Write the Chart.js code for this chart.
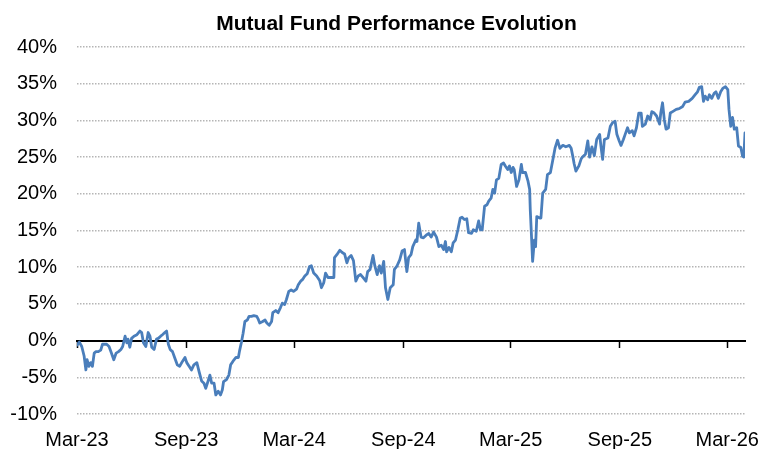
<!DOCTYPE html>
<html><head><meta charset="utf-8">
<script src="https://cdn.jsdelivr.net/npm/chart.js@4.4.1/dist/chart.umd.min.js"></script>
<style>html,body{margin:0;padding:0;background:#fff;}canvas{display:block;}</style>
</head><body>
<canvas id="c" width="762" height="449"></canvas>
<script>
// Days since 1 Mar 2023
const dayOffsets = [0,4,8,12,15,17,20,23,26,29,32,36,40,43,50,54,58,62,66,70,74,77,81,84,86,89,92,96,101,106,109,112,116,120,123,126,130,134,137,141,144,148,151,154,157,161,165,169,173,178,182,185,189,193,197,202,206,
210,214,217,221,224,227,231,234,238,242,245,247,252,256,259,263,268,272,274,277,280,283,287,290,294,298,303,305,308,313,317,320,324,328,330,335,339,343,346,350,353,357,361,365,370,373,377,380,384,388,392,395,399,
404,409,412,416,419,423,429,433,434,438,443,447,451,455,458,462,466,470,474,478,482,487,490,494,499,502,506,510,513,517,520,524,528,533,535,539,544,548,552,556,559,563,566,571,573,576,580,584,589,593,597,601,606,610,614,618,621,623,627,631,634,638,642,646,649,653,657,660,665,668,673,677,680,683,687,691,694,698,701,704,707,711,715,719,722,726,729,732,735,737,741,745,749,751,756,760,763,764,766,768,771,773,775,780,782,785,790,793,798,803,806,810,814,819,824,830,833,836,838,841,846,850,852,857,861,864,868,872,876,881,883,886,889,895,899,903,907,910,914,917,921,924,928,931,936,939,943,947,951,953,958,962,966,969,973,977,982,984,987,990,993,997,1000,1004,1010,1015,1021,1025,1031,1037,1042,1046,1049,1053,1056,1059,1063,1066,1070,1074,1077,1081,1085,1089,1093,1097,1099,1102,1105,1108,1112,1115,1119,1122,1124,1126];
// Cumulative performance, %
const returns = [-0.6,-0.2,-0.8,-2.1,-4.0,-2.6,-3.5,-3.0,-3.5,-1.7,-1.5,-1.5,-1.3,-0.5,-0.5,-0.8,-1.7,-2.6,-1.7,-1.5,-1.2,-0.8,0.6,-0.3,0.2,-0.9,0.3,0.6,0.8,1.3,1.1,-0.3,-0.8,1.1,0.6,-0.9,-1.2,0.2,0.3,0.6,0.8,1.1,1.3,-0.5,-1.2,-1.5,-2.4,-3.3,-3.5,-2.8,-2.3,-3.0,-3.5,-4.0,-3.3,-3.0,-4.3,
-5.5,-5.8,-6.5,-5.5,-4.7,-5.8,-5.8,-7.4,-6.9,-7.4,-6.7,-5.6,-5.3,-4.7,-3.3,-2.8,-2.3,-2.3,-1.4,-0.3,1.0,2.6,2.8,3.3,3.3,3.4,3.3,3.0,2.4,2.6,2.8,2.4,2.1,2.6,3.8,4.1,3.8,4.5,5.1,4.9,5.6,6.7,6.9,6.7,7.0,7.6,8.1,8.3,8.8,9.1,10.1,10.2,9.2,
8.8,8.2,7.2,7.9,9.2,8.6,8.6,8.6,11.3,11.7,12.3,12.0,11.8,10.6,11.3,11.6,10.9,8.1,8.8,9.0,8.6,8.1,9.4,9.7,11.6,10.2,9.0,10.2,9.2,10.8,7.2,5.6,7.2,7.6,9.7,10.1,11.0,12.2,12.4,9.4,11.3,11.7,12.8,13.7,13.5,16.0,14.1,14.0,14.4,14.6,14.1,14.8,14.1,12.8,13.0,12.4,13.5,12.1,12.7,12.1,13.3,13.7,15.1,16.7,16.8,16.5,16.6,14.7,14.6,15.1,14.9,16.3,15.1,15.1,18.3,18.5,19.0,19.4,20.6,20.1,21.9,22.1,24.0,24.2,23.8,23.3,23.8,22.9,23.6,23.3,21.0,21.9,24.0,22.9,22.9,21.8,20.6,17.9,14.4,10.8,13.7,12.8,16.9,16.7,16.7,20.1,20.6,22.6,22.9,25.0,26.3,27.3,26.2,26.6,26.4,26.6,26.2,25.0,24.1,23.1,23.8,24.8,25.0,25.4,27.2,25.0,26.4,25.2,27.4,28.1,26.6,24.7,27.4,27.6,29.2,29.7,29.9,28.1,27.2,26.6,27.4,28.1,29.0,28.3,28.6,27.9,29.0,31.0,31.0,29.2,29.5,30.6,30.1,31.2,31.0,30.6,29.5,31.0,32.4,30.1,28.8,29.0,31.0,31.2,31.5,31.6,31.9,32.5,32.6,33.0,33.5,33.9,34.5,34.6,32.6,33.3,32.8,33.5,33.0,33.7,33.9,33.0,33.9,34.4,34.6,34.2,31.5,29.2,30.4,28.8,29.0,26.5,26.3,25.1,25.0,28.3];
const tickDays = [0,184,366,550,731,915,1096];
const tickLabels = ['Mar-23','Sep-23','Mar-24','Sep-24','Mar-25','Sep-25','Mar-26'];
const yMin = -10, yMax = 40, yStep = 5;
const titleText = 'Mutual Fund Performance Evolution';

const FONT = "'Liberation Sans', Arial, sans-serif";
const lastDay = dayOffsets[dayOffsets.length - 1];
const setTicks = s => { s.ticks = tickDays.map(v => ({value: v})); };
const zeroPad = s => { s.paddingLeft = 0; s.paddingRight = 0; s.paddingTop = 0; s.paddingBottom = 0; };

new Chart(document.getElementById('c'), {
  type: 'line',
  data: {
    datasets: [{
      data: dayOffsets.map((d, i) => ({x: d, y: returns[i]})),
      borderColor: '#4a7ebb',
      borderWidth: 2.8,
      pointRadius: 0,
      tension: 0,
      fill: false,
      borderJoinStyle: 'round',
      borderCapStyle: 'round',
      xAxisID: 'x', yAxisID: 'y'
    }]
  },
  options: {
    responsive: false,
    animation: false,
    devicePixelRatio: 1,
    layout: {padding: {left: 0, right: -31, top: 0, bottom: 0}},
    plugins: {
      legend: {display: false},
      tooltip: {enabled: false},
      title: {
        display: true, text: titleText, color: '#000',
        font: {family: FONT, size: 21, weight: 'bold'},
        padding: {top: 12, bottom: 9.8}
      }
    },
    scales: {
      x: {
        type: 'linear', position: 'bottom', min: 0, max: lastDay,
        afterBuildTicks: setTicks,
        afterFit: s => { zeroPad(s); s.paddingRight = 17; s.height = 35; },
        grid: {display: false, drawTicks: false},
        border: {display: false},
        ticks: {
          color: '#000', padding: 14, maxRotation: 0, autoSkip: false,
          font: {family: FONT, size: 20},
          callback: (v, i) => tickLabels[i]
        }
      },
      x2: {
        type: 'linear', position: {y: 0}, min: 0, max: lastDay,
        afterBuildTicks: setTicks,
        afterFit: zeroPad,
        grid: {display: true, drawOnChartArea: false, drawTicks: true, tickLength: 6, tickWidth: 1.5, tickColor: '#000'},
        border: {display: true, color: '#000', width: 2},
        ticks: {display: false}
      },
      y: {
        type: 'linear', min: yMin, max: yMax,
        afterFit: s => { zeroPad(s); s.width = 77; },
        grid: {
          drawTicks: false, lineWidth: 1.5,
          color: ctx => (ctx.tick && ctx.tick.value === 0) ? 'rgba(0,0,0,0)' : '#b5b5b5'
        },
        border: {display: false, dash: [1.5, 1.5]},
        ticks: {
          stepSize: yStep, color: '#000', padding: 20,
          font: {family: FONT, size: 20},
          callback: v => v + '%'
        }
      }
    }
  }
});
</script>
</body></html>
